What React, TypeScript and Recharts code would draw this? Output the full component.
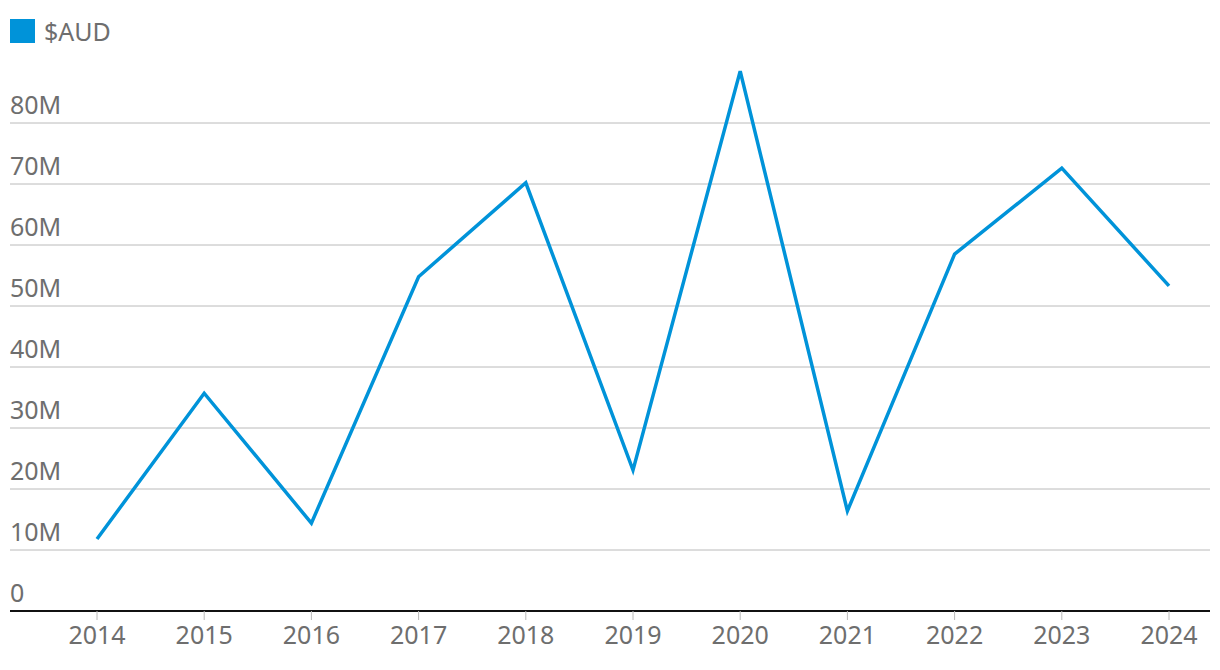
import { LineChart, Line, XAxis, YAxis, CartesianGrid } from "recharts";

const years = ["2014", "2015", "2016", "2017", "2018", "2019", "2020", "2021", "2022", "2023", "2024"];
// $AUD, millions
const aud = [11.8, 35.7, 14.4, 54.8, 70.2, 23.1, 88.5, 16.4, 58.5, 72.6, 53.3];
const yTicks = [0, 10, 20, 30, 40, 50, 60, 70, 80];

const data = years.map((year, i) => ({ year, aud: aud[i] }));

const FONT = "'Noto Sans', sans-serif";
const GREY = "#6e6e6e";
const BLUE = "#0093d9";

const YTick = ({ y, payload }: any) => (
  <text x={10} y={y} dy={-9} fill={GREY} fontSize={25} fontFamily={FONT} textAnchor="start">
    {payload.value === 0 ? "0" : `${payload.value}M`}
  </text>
);

export default function App() {
  return (
    <div style={{ position: "absolute", top: 0, left: 0, width: 1220, height: 670, background: "#fff" }}>
      <div
        style={{
          position: "absolute",
          top: 14,
          left: 10,
          display: "flex",
          alignItems: "center",
          fontFamily: FONT,
          fontSize: 25,
          color: GREY,
        }}
      >
        <span style={{ width: 25, height: 24, background: BLUE, marginRight: 9, display: "inline-block" }} />
        $AUD
      </div>
      <LineChart width={1220} height={670} data={data} margin={{ top: 62, right: 10, bottom: 0, left: 10 }}>
        <CartesianGrid vertical={false} stroke="#bababa" horizontalValues={yTicks} />
        <XAxis
          dataKey="year"
          padding={{ left: 87, right: 41 }}
          axisLine={{ stroke: "#111", strokeWidth: 2 }}
          tickLine={{ stroke: "#bababa" }}
          tickSize={9}
          tickMargin={6}
          height={59}
          tick={{ fill: GREY, fontSize: 25, fontFamily: FONT }}
        />
        <YAxis
          mirror
          width={60}
          domain={[0, 90]}
          ticks={yTicks}
          axisLine={false}
          tickLine={false}
          tick={<YTick />}
        />
        <Line
          type="linear"
          dataKey="aud"
          stroke={BLUE}
          strokeWidth={3.5}
          dot={false}
          activeDot={false}
          isAnimationActive={false}
        />
      </LineChart>
    </div>
  );
}
